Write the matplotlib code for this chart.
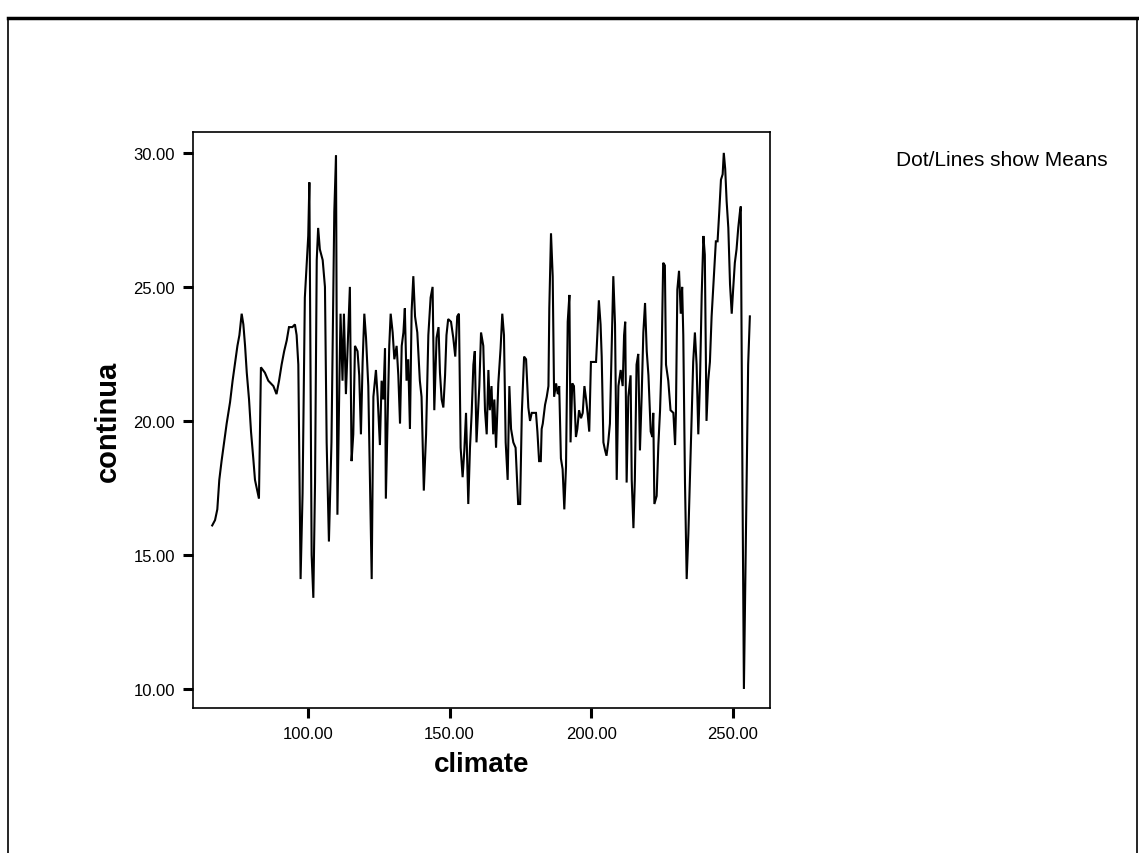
import matplotlib
matplotlib.use("Agg")
import matplotlib.pyplot as plt
from matplotlib.lines import Line2D

plt.rcParams["font.family"] = ["Liberation Sans", "DejaVu Sans"]

# mean of continua for each climate value
climate = [
    66.2, 67.2, 68.0, 68.7, 69.5, 70.4, 71.3, 72.5, 73.4, 74.2, 75.1, 75.8,
    76.6, 77.2, 77.8, 78.4, 79.2, 79.9, 80.7, 81.3, 82.1, 82.7, 83.4, 84.8,
    86.0, 87.8, 88.9, 89.8, 90.7, 91.6, 92.5, 93.3, 94.5, 95.4, 96.0, 96.6,
    97.4, 98.1, 98.9, 100.1, 100.5, 101.3, 101.9, 102.5, 103.1, 103.6, 104.2,
    105.2, 106.0, 106.6, 107.4, 108.3, 108.9, 109.3, 109.9, 110.4, 111.1,
    111.5, 112.2, 112.7, 113.4, 114.2, 114.8, 115.4, 116.0, 116.6, 117.5,
    118.1, 118.7, 119.3, 119.9, 120.5, 121.3, 121.9, 122.5, 123.1, 124.0,
    124.6, 125.4, 126.0, 126.6, 127.2, 127.5, 128.0, 128.7, 129.2, 129.9,
    130.5, 131.3, 131.9, 132.5, 133.1, 133.7, 134.2, 134.8, 135.4, 136.0,
    136.6, 137.2, 137.8, 138.6, 139.5, 140.1, 140.9, 141.7, 142.5, 143.3,
    144.0, 144.6, 145.4, 146.1, 146.6, 147.2, 147.8, 148.4, 148.9, 149.5,
    150.5, 151.3, 152.0, 152.7, 153.3, 153.9, 154.6, 155.2, 155.8, 156.6,
    157.2, 157.8, 158.4, 158.9, 159.5, 160.5, 161.1, 161.9, 162.5, 163.1,
    163.7, 164.2, 164.8, 165.4, 165.8, 166.4, 167.2, 168.0, 168.6, 169.2,
    169.8, 170.5, 171.1, 171.7, 172.5, 173.3, 174.2, 174.9, 175.5, 176.3,
    177.0, 177.8, 178.4, 179.0, 179.6, 180.5, 181.0, 181.6, 182.2, 182.5,
    182.9, 183.7, 184.3, 184.9, 185.2, 185.8, 186.4, 186.9, 187.6, 188.2,
    188.7, 189.3, 189.9, 190.5, 191.1, 191.7, 192.3, 192.7, 193.3, 193.9,
    194.6, 195.1, 195.7, 196.4, 197.0, 197.6, 198.2, 198.7, 199.3, 199.9,
    200.7, 201.7, 202.2, 202.7, 203.3, 203.7, 204.3, 204.9, 205.4, 206.0,
    206.6, 207.2, 207.8, 208.4, 209.0, 209.6, 210.4, 211.1, 211.6, 212.0,
    212.5, 213.1, 213.9, 214.3, 214.9, 215.4, 216.0, 216.6, 217.2, 217.8,
    218.4, 219.0, 219.6, 220.2, 221.0, 221.6, 221.9, 222.3, 223.1, 223.7,
    224.3, 224.8, 225.4, 226.0, 226.4, 227.2, 228.0, 229.0, 229.6, 229.9,
    230.4, 231.0, 231.6, 232.1, 232.5, 233.1, 233.7, 234.3, 234.9, 235.4,
    236.0, 236.6, 237.2, 237.8, 238.4, 239.0, 239.6, 240.1, 240.7, 241.3,
    241.9, 242.5, 243.1, 244.0, 244.6, 245.2, 245.8, 246.4, 246.8, 247.3,
    247.8, 248.4, 249.0, 249.6, 250.1, 250.7, 251.3, 251.9, 252.5, 252.8,
    253.4, 253.9, 254.8, 255.4, 256.0,
]
continua = [
    16.1, 16.3, 16.7, 17.8, 18.5, 19.2, 19.9, 20.7, 21.5, 22.1, 22.8, 23.2,
    24.0, 23.6, 22.8, 21.8, 20.8, 19.6, 18.6, 17.8, 17.4, 17.1, 22.0, 21.8,
    21.5, 21.3, 21.0, 21.5, 22.1, 22.6, 23.0, 23.5, 23.5, 23.6, 23.2, 22.1,
    14.1, 17.3, 24.6, 26.9, 28.9, 15.0, 13.4, 17.7, 26.0, 27.2, 26.4,
    26.0, 25.0, 19.2, 15.5, 19.2, 24.5, 27.8, 29.9, 16.5, 21.5,
    24.0, 21.5, 24.0, 21.0, 23.3, 25.0, 18.5, 19.5, 22.8, 22.6,
    21.7, 19.5, 22.2, 24.0, 23.1, 21.3, 17.7, 14.1, 20.9, 21.9,
    20.9, 19.1, 21.5, 20.8, 22.7, 17.1, 19.5, 22.8, 24.0, 23.3,
    22.3, 22.8, 21.7, 19.9, 22.8, 23.3, 24.2, 21.5, 22.3, 19.7,
    24.1, 25.4, 23.9, 23.3, 21.5, 20.9, 17.4, 19.5, 23.2, 24.6,
    25.0, 20.4, 23.1, 23.5, 21.8, 20.8, 20.5, 21.7, 23.2, 23.8,
    23.7, 23.1, 22.4, 23.9, 24.0, 19.0, 17.9, 18.9, 20.3, 16.9,
    19.0, 20.3, 22.1, 22.6, 19.2, 21.3, 23.3, 22.8, 20.4, 19.5,
    21.9, 20.4, 21.3, 19.5, 20.8, 19.0, 21.4, 22.7, 24.0, 23.2,
    19.2, 17.8, 21.3, 19.7, 19.2, 19.0, 16.9, 16.9, 20.3, 22.4,
    22.3, 20.5, 20.0, 20.3, 20.3, 20.3, 19.6, 18.5, 18.5, 19.7,
    19.9, 20.6, 20.9, 21.3, 24.2, 27.0, 25.4, 20.9, 21.4, 21.0,
    21.3, 18.6, 18.2, 16.7, 18.3, 23.7, 24.7, 19.2, 21.4, 21.3,
    19.4, 19.7, 20.4, 20.1, 20.3, 21.3, 20.8, 20.3, 19.6, 22.2,
    22.2, 22.2, 23.3, 24.5, 23.6, 22.4, 19.2, 18.9, 18.7, 19.2,
    19.9, 22.6, 25.4, 23.6, 17.8, 21.3, 21.9, 21.3, 23.2, 23.7,
    17.7, 20.9, 21.7, 17.8, 16.0, 17.8, 22.1, 22.5, 18.9, 20.9,
    23.3, 24.4, 22.6, 21.7, 19.6, 19.4, 20.3, 16.9, 17.2, 19.1,
    20.4, 22.1, 25.9, 25.8, 22.1, 21.5, 20.4, 20.3, 19.1, 20.3,
    24.9, 25.6, 24.0, 25.0, 23.2, 17.7, 14.1, 15.8, 18.1, 20.1,
    22.2, 23.3, 22.1, 19.5, 21.5, 24.7, 26.9, 26.2, 20.0, 21.5,
    22.2, 23.9, 25.0, 26.7, 26.7, 27.8, 29.0, 29.2, 30.0, 29.4,
    28.2, 27.2, 25.1, 24.0, 24.9, 25.9, 26.4, 27.2, 27.8, 28.0,
    17.6, 10.0, 17.2, 22.1, 23.9,
]
x_ticks = [100, 150, 200, 250]
y_ticks = [10, 15, 20, 25, 30]

fig = plt.figure(figsize=(11.39, 8.54), dpi=100)
ax = fig.add_axes([0.1694, 0.1698, 0.5066, 0.6745])

ax.plot(climate, continua, color="black", lw=1.5, solid_joinstyle="miter")

ax.set_xlim(59.4, 263.1)
ax.set_ylim(9.29, 30.78)
ax.set_xticks(x_ticks)
ax.set_xticklabels([f"{v:.2f}" for v in x_ticks])
ax.set_yticks(y_ticks)
ax.set_yticklabels([f"{v:.2f}" for v in y_ticks])
ax.tick_params(axis="both", direction="out", length=7, width=2.2,
               labelsize=12, pad=6, colors="black")
for side in ax.spines.values():
    side.set_linewidth(1.2)
    side.set_color("black")

ax.set_xlabel("climate", fontsize=20, fontweight="bold", labelpad=7)
ax.set_ylabel("continua", fontsize=21, fontweight="bold", labelpad=8)

fig.text(0.787, 0.812, "Dot/Lines show Means", fontsize=15,
         ha="left", va="center")

# outer page frame
fig.add_artist(Line2D([0.007, 0.998], [0.978, 0.978], color="black", lw=2.5,
                      transform=fig.transFigure))
fig.add_artist(Line2D([0.007, 0.007], [0.0, 0.978], color="black", lw=1.2,
                      transform=fig.transFigure))
fig.add_artist(Line2D([0.998, 0.998], [0.0, 0.978], color="black", lw=1.2,
                      transform=fig.transFigure))

fig.savefig("out.png", dpi=100)
